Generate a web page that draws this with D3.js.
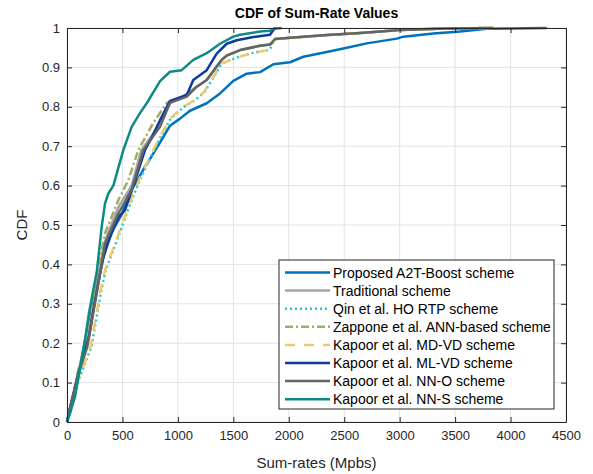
<!DOCTYPE html>
<html>
<head>
<meta charset="utf-8">
<script src="https://cdn.jsdelivr.net/npm/d3@7"></script>
<style>
  body { margin: 0; background: #fff; }
  svg { font-family: "Liberation Sans", Arial, sans-serif; }
</style>
</head>
<body>
<svg id="chart" width="593" height="474"></svg>
<script>

// [sum-rate (Mbps), CDF]
var a2t = [[0,0],[30,0.04],[80,0.09],[150,0.19],[200,0.26],[250,0.32],[300,0.39],[360,0.45],[420,0.49],[500,0.53],[553,0.58],[629,0.61],[703,0.648],[749,0.668],[840,0.71],[929,0.752],[1019,0.77],[1109,0.79],[1260,0.809],[1380,0.834],[1500,0.866],[1621,0.884],[1741,0.888],[1861,0.908],[2011,0.913],[2131,0.927],[2342,0.939],[2492,0.948],[2703,0.961],[2974,0.973],[3034,0.978],[3304,0.986],[3545,0.991],[3786,0.998],[4000,0.999],[4327,1]];

var traditional = [[0,0],[40,0.05],[100,0.125],[175,0.195],[260,0.33],[320,0.43],[350,0.465],[463,0.545],[583,0.6],[670,0.69],[839,0.755],[929,0.81],[1049,0.826],[1170,0.851],[1260,0.868],[1350,0.902],[1395,0.919],[1440,0.93],[1561,0.944],[1741,0.955],[1831,0.958],[1876,0.972],[2011,0.975],[2342,0.982],[2643,0.987],[3004,0.995],[3425,0.999],[3845,1]];

var qin = [[0,0],[35,0.03],[95,0.1],[220,0.191],[310,0.335],[350,0.386],[440,0.453],[560,0.546],[665,0.62],[785,0.69],[875,0.74],[935,0.77],[1055,0.80],[1145,0.815],[1235,0.836],[1325,0.876],[1385,0.905],[1415,0.912],[1531,0.925],[1681,0.937],[1831,0.945],[1846,0.957],[1876,0.972],[2011,0.975],[2342,0.982],[2643,0.987],[3004,0.995],[3425,0.999],[3845,1]];

var zappone = [[0,0],[40,0.05],[100,0.13],[170,0.2],[250,0.33],[300,0.42],[343,0.479],[463,0.563],[553,0.614],[643,0.69],[780,0.76],[900,0.81],[1049,0.826],[1170,0.851],[1260,0.868],[1350,0.902],[1395,0.919],[1440,0.93],[1561,0.944],[1741,0.955],[1831,0.958],[1876,0.972],[2011,0.975],[2342,0.982],[2643,0.987],[3004,0.995],[3425,0.999],[3845,1]];

var mdvd = [[0,0],[30,0.03],[90,0.1],[213,0.191],[304,0.335],[343,0.386],[433,0.453],[553,0.546],[658,0.62],[778,0.69],[869,0.74],[929,0.77],[1049,0.80],[1139,0.815],[1230,0.836],[1320,0.876],[1380,0.905],[1410,0.912],[1531,0.925],[1681,0.937],[1831,0.945],[1846,0.957],[1876,0.972],[2011,0.975],[2342,0.982],[2643,0.987],[3004,0.995],[3425,0.999],[3845,1]];

var mlvd = [[0,0],[40,0.05],[100,0.12],[198,0.216],[243,0.292],[280,0.35],[330,0.42],[400,0.48],[463,0.52],[523,0.538],[600,0.6],[703,0.69],[760,0.72],[839,0.766],[929,0.815],[1080,0.83],[1139,0.868],[1260,0.893],[1350,0.935],[1440,0.96],[1531,0.969],[1681,0.977],[1831,0.983],[1861,0.995],[1880,1]];

var nno = [[0,0],[40,0.05],[100,0.12],[183,0.191],[273,0.335],[343,0.453],[463,0.529],[583,0.589],[688,0.69],[839,0.749],[929,0.81],[1080,0.826],[1170,0.851],[1260,0.868],[1350,0.902],[1395,0.919],[1440,0.93],[1561,0.944],[1741,0.955],[1831,0.958],[1876,0.972],[2011,0.975],[2342,0.982],[2643,0.987],[3004,0.995],[3425,0.999],[3845,1]];

var nns = [[0,0],[27,0.022],[72,0.064],[153,0.191],[198,0.276],[237,0.335],[268,0.38],[313,0.496],[343,0.555],[373,0.58],[418,0.6],[478,0.66],[508,0.69],[583,0.749],[658,0.784],[719,0.809],[839,0.865],[929,0.889],[1034,0.893],[1139,0.919],[1260,0.936],[1380,0.96],[1500,0.978],[1561,0.983],[1741,0.991],[1831,0.993],[1861,0.998],[1936,1]];

var names = ["Proposed A2T-Boost scheme", "Traditional scheme", "Qin et al. HO RTP scheme",
             "Zappone et al. ANN-based scheme", "Kapoor et al. MD-VD scheme", "Kapoor et al. ML-VD scheme",
             "Kapoor et al. NN-O scheme", "Kapoor et al. NN-S scheme"];
var all_data = [a2t, traditional, qin, zappone, mdvd, mlvd, nno, nns];
var colors = ["#0072BD", "#A5A5A5", "#1EC8CC", "#9DB062", "#EBCB6E", "#0E3A9E", "#646464", "#0E8A84"];
var dashes = [null, null, "2,3", "8,3,2,3", "10,9", null, null, null];

var x_ticks = d3.range(0, 4501, 500);
var y_ticks = d3.range(0, 11).map(function(d) { return d / 10; });

var margin = {top: 28, right: 27, bottom: 52, left: 67};
var svg = d3.select("#chart");
var width = 593 - margin.left - margin.right;
var height = 474 - margin.top - margin.bottom;

var x = d3.scaleLinear().domain([0, 4500]).range([0, width]);
var y = d3.scaleLinear().domain([0, 1]).range([height, 0]);

var g = svg.append("g").attr("transform", "translate(" + margin.left + "," + margin.top + ")");

// grid
g.selectAll(".gx").data(x_ticks).enter().append("line")
    .attr("x1", x).attr("x2", x).attr("y1", 0).attr("y2", height)
    .attr("stroke", "#e3e3e3").attr("stroke-width", 1);
g.selectAll(".gy").data(y_ticks).enter().append("line")
    .attr("y1", y).attr("y2", y).attr("x1", 0).attr("x2", width)
    .attr("stroke", "#e3e3e3").attr("stroke-width", 1);

// curves
var line = d3.line()
    .x(function(d) { return x(d[0]); })
    .y(function(d) { return y(d[1]); });

all_data.forEach(function(series, i) {
    g.append("path")
	.datum(series)
	.attr("d", line)
	.attr("fill", "none")
	.attr("stroke", colors[i])
	.attr("stroke-width", 2.5)
	.attr("stroke-linejoin", "round")
	.attr("stroke-dasharray", dashes[i]);
});

// axes
var axis_color = "#262626";
g.append("g").attr("transform", "translate(0," + height + ")")
    .call(d3.axisBottom(x).tickValues(x_ticks).tickFormat(d3.format("d")).tickSizeInner(-5).tickSizeOuter(0).tickPadding(9));
g.append("g")
    .call(d3.axisLeft(y).tickValues(y_ticks).tickFormat(d3.format("")).tickSizeInner(-5).tickSizeOuter(0).tickPadding(7));
g.append("g")
    .call(d3.axisTop(x).tickValues(x_ticks).tickSizeInner(-5).tickSizeOuter(0).tickFormat(""));
g.append("g").attr("transform", "translate(" + width + ",0)")
    .call(d3.axisRight(y).tickValues(y_ticks).tickSizeInner(-5).tickSizeOuter(0).tickFormat(""));

g.selectAll(".domain, .tick line").attr("stroke", axis_color);
g.selectAll(".tick text").attr("fill", axis_color).style("font-size", "13px")
    .style("font-family", "'Liberation Sans', Arial, sans-serif");

// labels
svg.append("text").attr("x", margin.left + width / 2).attr("y", 18)
    .attr("text-anchor", "middle").style("font-size", "14px").style("font-weight", "bold")
    .attr("fill", "#000").text("CDF of Sum-Rate Values");
svg.append("text").attr("x", margin.left + width / 2).attr("y", 468)
    .attr("text-anchor", "middle").style("font-size", "15px").attr("fill", axis_color)
    .text("Sum-rates (Mpbs)");
svg.append("text").attr("transform", "translate(27," + (margin.top + height / 2) + ") rotate(-90)")
    .attr("text-anchor", "middle").style("font-size", "15px").attr("fill", axis_color)
    .text("CDF");

// legend
var lx = 279, ly = 260, lw = 275, lh = 149, row = 18.1;
var legend = svg.append("g");
legend.append("rect").attr("x", lx).attr("y", ly).attr("width", lw).attr("height", lh)
    .attr("fill", "#fff").attr("stroke", axis_color).attr("stroke-width", 1);

names.forEach(function(name, i) {
    var yy = ly + 12.5 + i * row;
    legend.append("line")
	.attr("x1", lx + 6).attr("x2", lx + 51).attr("y1", yy).attr("y2", yy)
	.attr("stroke", colors[i]).attr("stroke-width", 2.5)
	.attr("stroke-dasharray", dashes[i]);
    legend.append("text").attr("x", lx + 54).attr("y", yy + 5)
	.style("font-size", "14px").attr("fill", "#000").text(name);
});

</script>
</body>
</html>
